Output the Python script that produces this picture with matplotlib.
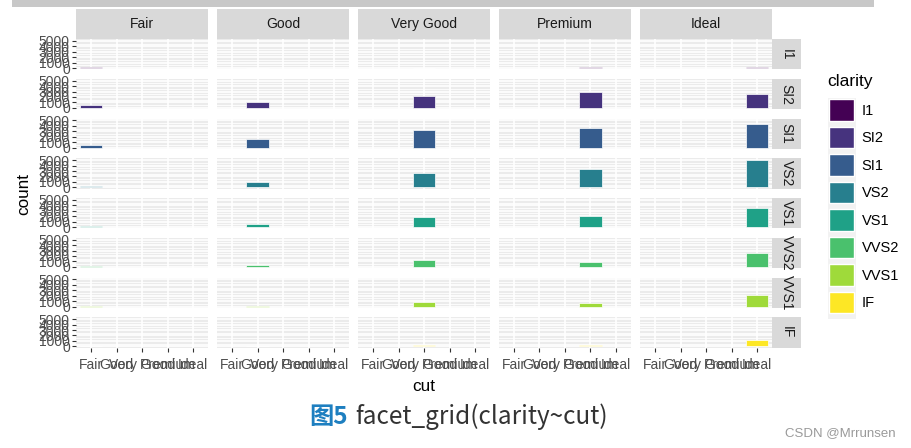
import numpy as np
import matplotlib
matplotlib.use('Agg')
import matplotlib.pyplot as plt
from matplotlib.patches import Rectangle, Patch

plt.rcParams['font.family'] = ['Liberation Sans', 'DejaVu Sans']

cuts = ['Fair', 'Good', 'Very Good', 'Premium', 'Ideal']
clarity = ['I1', 'SI2', 'SI1', 'VS2', 'VS1', 'VVS2', 'VVS1', 'IF']
# counts per clarity, one list per cut
fair = [210, 466, 408, 261, 170, 69, 17, 9]
good = [96, 1081, 1560, 978, 648, 286, 186, 71]
very_good = [84, 2100, 3240, 2591, 1775, 1235, 789, 268]
premium = [205, 2949, 3575, 3357, 1989, 870, 616, 230]
ideal = [146, 2598, 4282, 5071, 3589, 2606, 2047, 1212]
colors = ['#440154', '#46337E', '#365C8D', '#277F8E', '#1FA187', '#4AC16D', '#9FDA3A', '#FDE725']
y_ticks = [0, 1000, 2000, 3000, 4000, 5000]
y_minor = [500, 1500, 2500, 3500, 4500]

counts = np.array([fair, good, very_good, premium, ideal])

W, H = 912, 448
fig = plt.figure(figsize=(W / 100, H / 100), dpi=100)


def px(l, t, w, h):
    return [l / W, 1 - (t + h) / H, w / W, h / H]


x0, pw, xgap = 75.7, 132.6, 8.4
y0, ph, ygap = 39.2, 30.2, 9.55
strip_h, strip_w = 29.7, 29.0
ymax = counts.max()
ylo, yhi = -0.05 * ymax, 1.05 * ymax

for r, cl in enumerate(clarity):
    for c, cu in enumerate(cuts):
        ax = fig.add_axes(px(x0 + c * (pw + xgap), y0 + r * (ph + ygap), pw, ph))
        ax.set_facecolor('#EBEBEB')
        for s in ax.spines.values():
            s.set_visible(False)
        ax.set_axisbelow(True)
        ax.set_xlim(-0.6, 4.6)
        ax.set_ylim(ylo, yhi)
        ax.set_xticks(range(len(cuts)))
        ax.set_yticks(y_ticks)
        ax.set_yticks(y_minor, minor=True)
        ax.grid(which='major', color='white', lw=1.2)
        ax.grid(which='minor', axis='y', color='white', lw=0.6)
        ax.tick_params(which='minor', length=0)
        ax.bar(c, counts[c, r], width=0.9, color=colors[r], edgecolor='white', linewidth=0.5, zorder=3)

        ax.tick_params(axis='both', which='major', length=2.75, width=0.8, color='#333333',
                       labelsize=10, labelcolor='#4D4D4D', pad=1.5)
        if r == len(clarity) - 1:
            ax.set_xticklabels(cuts)
            ax.tick_params(axis='x', pad=5)
        else:
            ax.set_xticklabels([])
            ax.tick_params(axis='x', length=0)
        if c == 0:
            ax.set_yticklabels([str(v) for v in y_ticks])
        else:
            ax.set_yticklabels([])
            ax.tick_params(axis='y', length=0)

        if r == 0:
            sh = strip_h / ph
            ax.add_patch(Rectangle((0, 1), 1, sh, transform=ax.transAxes, clip_on=False,
                                   color='#D9D9D9', lw=0))
            ax.text(0.5, 1 + sh / 2, cu, transform=ax.transAxes, ha='center', va='center',
                    fontsize=10, color='#1A1A1A')
        if c == len(cuts) - 1:
            sw = strip_w / pw
            ax.add_patch(Rectangle((1, 0), sw, 1, transform=ax.transAxes, clip_on=False,
                                   color='#D9D9D9', lw=0))
            ax.text(1 + sw / 2, 0.5, cl, transform=ax.transAxes, ha='center', va='center',
                    fontsize=10, color='#1A1A1A', rotation=-90)

fig.text(24 / W, 1 - 193.6 / H, 'count', rotation=90, ha='center', va='center', fontsize=12.3)
fig.text(424 / W, 1 - 386 / H, 'cut', ha='center', va='center', fontsize=12.3)

# legend
fig.add_artist(Rectangle((828 / W, 1 - 319 / H), 28 / W, 221.5 / H, transform=fig.transFigure,
                         color='#F2F2F2', lw=0, zorder=0))
fig.text(827.5 / W, 1 - 81.7 / H, 'clarity', ha='left', va='center', fontsize=12.5)
handles = [Patch(facecolor=col, edgecolor='white', linewidth=1.0) for col in colors]
fig.legend(handles, clarity, loc='upper left', bbox_to_anchor=(829 / W, 1 - 99 / H),
           frameon=False, fontsize=10.5, handlelength=1.7, handleheight=1.94,
           labelspacing=0.38, handletextpad=0.55, borderpad=0, borderaxespad=0)

# screenshot extras
fig.add_artist(Rectangle((12 / W, 1 - 7 / H), 862 / W, 7 / H, transform=fig.transFigure,
                         color='#C8C8C8', lw=0))
cjk = ['Noto Sans CJK SC', 'DejaVu Sans']
fig.text(309 / W, 1 - 416.7 / H, '图5', ha='left', va='center', fontsize=17.5,
         fontweight='bold', color='#1E7FC0', family=cjk)
fig.text(355 / W, 1 - 416.7 / H, 'facet_grid(clarity~cut)', ha='left', va='center',
         fontsize=17.5, color='#333333', family=cjk)
fig.text(896 / W, 1 - 433.3 / H, 'CSDN @Mrrunsen', ha='right', va='center', fontsize=9.5,
         color='#9A9A9A')

fig.savefig('out.png', dpi=100)
